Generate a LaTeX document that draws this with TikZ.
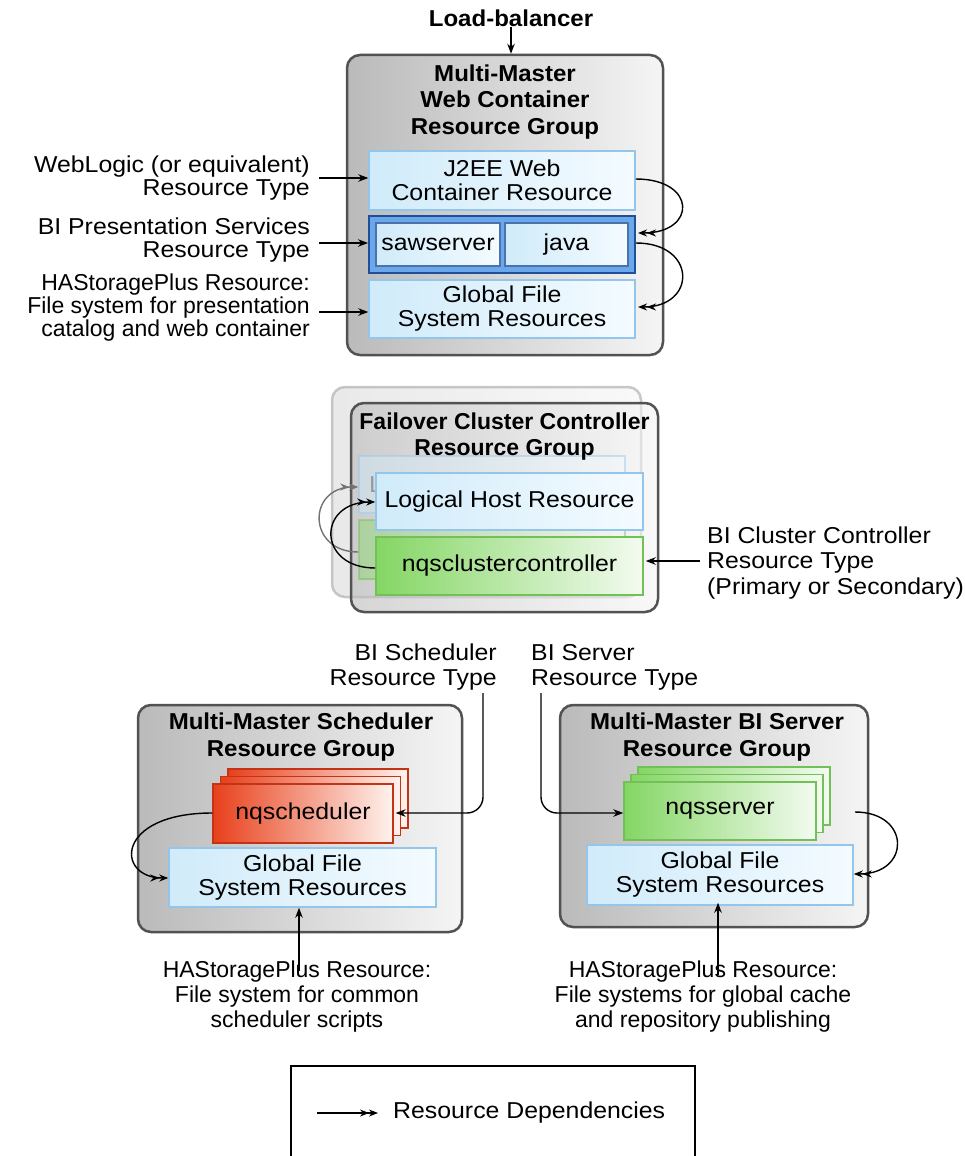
\documentclass[tikz,border=0pt]{standalone}
\usepackage{fontspec}
\setmainfont{Liberation Sans}[FakeStretch=1.08]
\newfontfamily\plainf{Liberation Sans}
\newfontfamily\boldf{Liberation Sans Bold}[FakeStretch=1.045]
\usetikzlibrary{arrows.meta,calc}
\definecolor{bbord}{HTML}{93C6EA}
\definecolor{bleft}{HTML}{D0EBFA}
\definecolor{bright}{HTML}{F4FBFF}
\definecolor{gleft}{HTML}{84D664}
\definecolor{gright}{HTML}{F3FBF0}
\definecolor{gbord}{HTML}{74C058}
\definecolor{rleft}{HTML}{E8401B}
\definecolor{rright}{HTML}{FFF3EE}
\definecolor{rbord}{HTML}{C23418}
\definecolor{cfill}{HTML}{6AA8EA}
\definecolor{cbord}{HTML}{1D4F9A}
\begin{document}
\begin{tikzpicture}[x=1pt,y=-1pt,
  body/.style={font=\fontsize{23}{24}\selectfont, align=center, inner sep=0pt},
  lbl/.style={font=\fontsize{23}{23}\selectfont, inner sep=0pt},
  lblb/.style={font=\plainf\fontsize{23}{25}\selectfont, inner sep=0pt, align=center},
  ttl/.style={font=\boldf\fontsize{23}{26.5}\selectfont, align=center, inner sep=0pt},
  group/.style={draw=black!68, line width=2.5pt, rounded corners=13pt, left color=black!27, right color=black!4, inner sep=0pt},
  bluebox/.style={draw=bbord, line width=1.5pt, left color=bleft, right color=bright, body},
  greenbox/.style={draw=gbord, line width=1.5pt, left color=gleft, right color=gright, body},
  redbox/.style={draw=rbord, line width=1.3pt, left color=rleft, right color=rright, body},
  arr/.style={-{Stealth[length=10pt,width=7.5pt]}, line width=1.4pt},
  dep/.style={-{Stealth[length=9pt,width=7pt]Stealth[length=9pt,width=7pt]}, line width=1.4pt},
]
\clip (0,0) rectangle (964,1156);
\useasboundingbox (0,0) rectangle (964,1156);
\fill[white] (0,0) rectangle (964,1156);

% ---------- Top group ----------
\node[ttl] (lb) at (511,18) {Load-balancer};
\node[group, minimum width=316pt, minimum height=300pt] (g1) at (505,205) {};
\draw[arr] (lb.south) -- (g1.north -| lb.south);
\node[ttl] (g1t) at (505,102) {Multi-Master\\Web Container\\Resource Group};
\node[bluebox, minimum width=266pt, minimum height=59pt] (j2ee) at (502,180.5) {J2EE Web\\Container Resource};
\node[draw=cbord, line width=2pt, fill=cfill, minimum width=266pt, minimum height=57pt, inner sep=0pt] (cont) at (502,244.5) {};
\node[bluebox, draw=cbord!80, minimum width=124pt, minimum height=43pt] (saw) at (438,244.5) {sawserver};
\node[bluebox, draw=cbord!80, minimum width=123pt, minimum height=43pt] (java) at (566.5,244.5) {java};
\node[bluebox, minimum width=266pt, minimum height=58pt] (gfs1) at (502,309) {Global File\\System Resources};

\node[lbl, align=right, anchor=east] (wl) at (310,178) {WebLogic (or equivalent)\\Resource Type};
\node[lbl, align=right, anchor=east] (bip) at (310,240) {BI Presentation Services\\Resource Type};
\node[lbl, font=\plainf\fontsize{23}{23}\selectfont, align=right, anchor=east] (hasp1) at (310,308) {HAStoragePlus Resource:\\File system for presentation\\catalog and web container};
\draw[arr] ([xshift=9pt]wl.east) -- (wl.east -| j2ee.west);
\draw[arr] ([xshift=9pt,yshift=-3pt]bip.east) -- ([yshift=-3pt]bip.east -| cont.west);
\draw[arr] ([xshift=9pt,yshift=-4pt]hasp1.east) -- ([yshift=-4pt]hasp1.east -| gfs1.west);

\coordinate (a1) at (j2ee.east |- 0,179);
\coordinate (b1) at (638,233);
\draw[dep] (a1) .. controls (697,179) and (697,233) .. (b1);
\coordinate (a2) at (cont.east |- 0,243);
\coordinate (b2) at (638,307);
\draw[dep] (a2) .. controls (697,243) and (697,307) .. (b2);

% ---------- Failover group ----------
\node[group, draw=black!30, left color=black!12, right color=black!3, minimum width=309pt, minimum height=210pt, opacity=0.7] (fg0) at (486.5,492) {};
\node[group, fill opacity=0.6, minimum width=307pt, minimum height=209pt] (fg) at (504.5,507.5) {};
\begin{scope}[opacity=0.45]
\node[bluebox, minimum width=266pt, minimum height=57pt] (lh0) at (492,484.5) {};
\node[body, anchor=west, text=black!70] (lh0t) at (369,484.5) {L};
\node[greenbox, minimum width=266pt, minimum height=59pt] (nc0) at (492,549.5) {};
\end{scope}
\node[bluebox, minimum width=267pt, minimum height=57pt] (lh) at (509.5,501.5) {Logical Host Resource};
\node[greenbox, minimum width=267pt, minimum height=58pt] (nc) at (509.5,566) {nqsclustercontroller};
\node[ttl, font=\plainf\bfseries\fontsize{23}{26.5}\selectfont] (fgt) at (504.5,436.5) {Failover Cluster Controller\\Resource Group};
\coordinate (c0) at (nc0.west |- 0,552);
\coordinate (d0) at (lh0.west |- 0,487);
\draw[dep, black!55] (c0) .. controls (307,552) and (307,487) .. (d0);
\coordinate (c1) at (nc.west |- 0,568);
\coordinate (d1) at (lh.west |- 0,502);
\draw[dep] (c1) .. controls (317,568) and (317,502) .. (d1);

\node[lbl, align=left, anchor=west, font=\fontsize{23}{25.5}\selectfont] (bicc) at (707,563) {BI Cluster Controller\\Resource Type\\(Primary or Secondary)};
\draw[arr] ([xshift=-7pt,yshift=2pt]bicc.west) -- ([xshift=2pt,yshift=2pt]bicc.west -| nc.east);

% ---------- Scheduler group ----------
\node[group, minimum width=324pt, minimum height=227pt] (sg) at (300,818.5) {};
\node[ttl] (sgt) at (301,737) {Multi-Master Scheduler\\Resource Group};
\node[redbox, minimum width=180pt, minimum height=59pt] (sch3) at (318,798.5) {};
\node[redbox, minimum width=180pt, minimum height=59pt] (sch2) at (310.5,806) {};
\node[redbox, minimum width=180pt, minimum height=59pt] (sch) at (303,813.5) {nqscheduler};
\node[bluebox, minimum width=267pt, minimum height=59pt] (gfs2) at (302.5,877.5) {Global File\\System Resources};
\coordinate (e1) at (sch.west |- 0,813);
\coordinate (f1) at (gfs2.west |- 0,878);
\draw[dep] (e1) .. controls (115,813) and (115,878) .. (f1);
\node[lbl, align=right, anchor=east, font=\fontsize{23}{25}\selectfont] (bis) at (497,667.5) {BI Scheduler\\Resource Type};
\coordinate (s1) at (483,693);
\draw[arr, rounded corners=16pt] (s1) |- ([xshift=2pt]sch.east |- 0,813);
\node[lblb] (hasp2) at (297,997) {HAStoragePlus Resource:\\File system for common\\scheduler scripts};
\draw[arr] ([yshift=-10pt]hasp2.north -| 299,0) -- (gfs2.south -| 299,0);

% ---------- BI server group ----------
\node[group, minimum width=308pt, minimum height=222pt] (bg) at (714,816) {};
\node[ttl] (bgt) at (717,737) {Multi-Master BI Server\\Resource Group};
\node[greenbox, minimum width=192pt, minimum height=58pt] (srv3) at (734,796) {};
\node[greenbox, minimum width=192pt, minimum height=58pt] (srv2) at (727,803.5) {};
\node[greenbox, minimum width=192pt, minimum height=58pt] (srv) at (720,811) {nqsserver};
\node[bluebox, minimum width=266pt, minimum height=60pt] (gfs3) at (720,875) {Global File\\System Resources};
\coordinate (e2) at (855,812);
\coordinate (f2) at (gfs3.east |- 0,874);
\draw[dep] (e2) .. controls (911,812) and (911,874) .. (f2);
\node[lbl, align=left, anchor=west, font=\fontsize{23}{25}\selectfont] (bisv) at (531,667.5) {BI Server\\Resource Type};
\coordinate (s2) at (541,693);
\draw[arr, rounded corners=16pt] (s2) |- (srv.west |- 0,813);
\node[lblb] (hasp3) at (703,997) {HAStoragePlus Resource:\\File systems for global cache\\and repository publishing};
\draw[arr] ([yshift=-14pt]hasp3.north -| 718,0) -- ([yshift=3pt]gfs3.south -| 718,0);

% ---------- Legend ----------
\node[draw=black, line width=2.5pt, minimum width=404pt, minimum height=110pt, inner sep=0pt] (leg) at (493,1121) {};
\coordinate (l1) at (317,1113);
\coordinate (l2) at (378,1113);
\draw[dep] (l1) -- (l2);
\node[body, anchor=west] (legt) at (393,1113) {Resource Dependencies};
\end{tikzpicture}
\end{document}
